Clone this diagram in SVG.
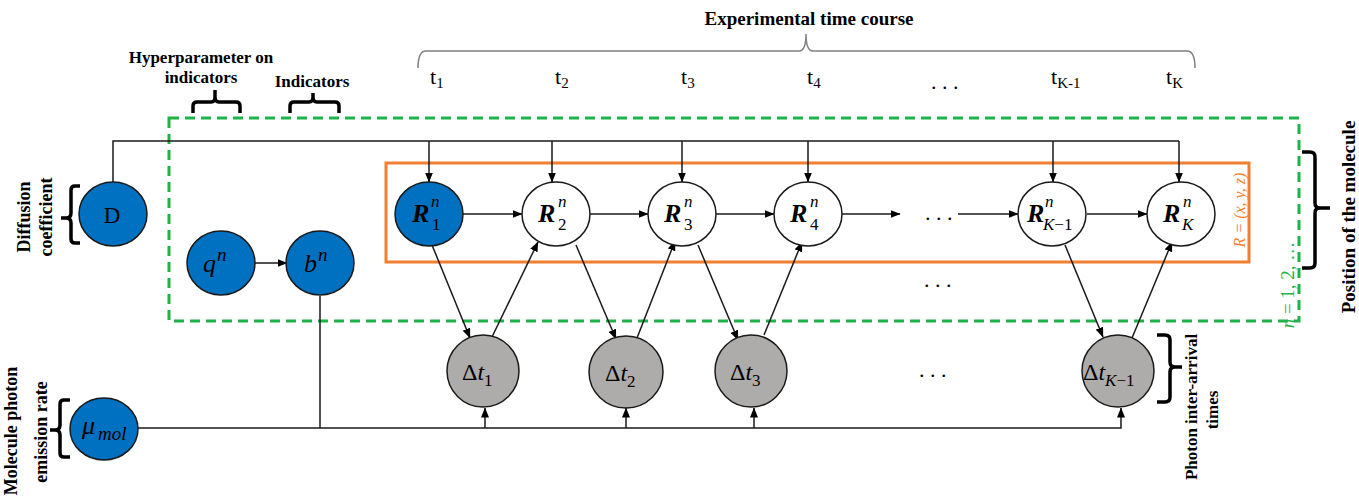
<svg xmlns="http://www.w3.org/2000/svg" width="1359" height="499" viewBox="0 0 1359 499">
<defs>
<marker id="ah" markerWidth="10" markerHeight="8" refX="9.5" refY="4" orient="auto" markerUnits="userSpaceOnUse"><path d="M0,0 L10,4 L0,8 z" fill="#000"/></marker>
<style>
.lbl{font-family:"Liberation Serif","Times New Roman",serif;font-weight:bold;fill:#000}
.m{font-family:"Liberation Serif","DejaVu Serif",serif;fill:#000}
.it{font-style:italic}
.blue{fill:#0070c0;stroke:#1a1a1a;stroke-width:1.5}
.white{fill:#fff;stroke:#1a1a1a;stroke-width:1.5}
.gray{fill:#aeabab;stroke:#1a1a1a;stroke-width:1.5}
.ln{fill:none;stroke:#1a1a1a;stroke-width:1.5}
.ar{fill:none;stroke:#1a1a1a;stroke-width:1.5;marker-end:url(#ah)}
.br{fill:none;stroke:#000;stroke-width:3.5}
.tl{font-family:"Liberation Serif",serif;fill:#000;font-size:22px}
.sp{font-size:17px;font-style:italic}
.sb{font-size:17px}
</style>
</defs>
<rect width="1359" height="499" fill="#fff"/>

<!-- frames -->
<rect x="169" y="118" width="1130" height="203" fill="none" stroke="#1fb24b" stroke-width="3" stroke-dasharray="10 6"/>
<rect x="386" y="163" width="863" height="99" fill="none" stroke="#f07f30" stroke-width="3"/>

<!-- time course brace -->
<path d="M418,68 Q418,51 426,51 L799,51 Q806,51 806,34 Q806,51 813,51 L1187,51 Q1195,51 1195,68" fill="none" stroke="#808080" stroke-width="1.5"/>
<text class="lbl" x="809" y="25" font-size="19" text-anchor="middle">Experimental time course</text>
<text class="tl" x="430" y="84">t<tspan font-size="15" dy="4">1</tspan></text>
<text class="tl" x="555" y="84">t<tspan font-size="15" dy="4">2</tspan></text>
<text class="tl" x="681" y="84">t<tspan font-size="15" dy="4">3</tspan></text>
<text class="tl" x="807" y="84">t<tspan font-size="15" dy="4">4</tspan></text>
<text class="tl" x="931" y="89">. . .</text>
<text class="tl" x="1051" y="84">t<tspan font-size="15" dy="4">K-1</tspan></text>
<text class="tl" x="1166" y="84">t<tspan font-size="15" dy="4">K</tspan></text>

<!-- labels top-left -->
<text class="lbl" x="201" y="63" font-size="17" text-anchor="middle">Hyperparameter on</text>
<text class="lbl" x="201" y="83" font-size="17" text-anchor="middle">indicators</text>
<text class="lbl" x="312" y="87" font-size="17" text-anchor="middle">Indicators</text>
<path class="br" d="M193,113 L193,106 Q193,102 197,102 L211,102 Q215,102 215,97 L215,90 M215,97 Q215,102 219,102 L236,102 Q240,102 240,106 L240,113"/>
<path class="br" d="M290,113 L290,106 Q290,102 294,102 L309,102 Q313,102 313,97 L313,93 M313,97 Q313,102 317,102 L335,102 Q339,102 339,106 L339,113"/>

<!-- left labels -->
<path class="br" d="M80,186 L75,186 Q71,186 71,190 L71,213 Q71,218 66,218 L61,218 M66,218 Q71,218 71,223 L71,239 Q71,243 75,243 L80,243"/>
<text class="lbl" font-size="18" text-anchor="middle" transform="translate(30,217) rotate(-90)">Diffusion</text>
<text class="lbl" font-size="18" text-anchor="middle" transform="translate(52,217) rotate(-90)">coefficient</text>
<path class="br" d="M70,400 L64,400 Q60,400 60,404 L60,425 Q60,430 55,430 L50,430 M55,430 Q60,430 60,435 L60,453 Q60,457 64,457 L70,457"/>
<text class="lbl" font-size="18" text-anchor="middle" transform="translate(17,431) rotate(-90)">Molecule  photon</text>
<text class="lbl" font-size="18" text-anchor="middle" transform="translate(47,432) rotate(-90)">emission rate</text>

<!-- right labels -->
<path class="br" d="M1157,335 L1165,335 Q1170,335 1170,340 L1170,362 Q1170,367 1175,367 L1182,367 M1175,367 Q1170,367 1170,372 L1170,397 Q1170,402 1165,402 L1157,402"/>
<text class="lbl" font-size="17" text-anchor="middle" transform="translate(1197,407) rotate(-90)">Photon inter-arrival</text>
<text class="lbl" font-size="17" text-anchor="middle" transform="translate(1218,410) rotate(-90)">times</text>
<path class="br" d="M1302,152 L1310,152 Q1315,152 1315,157 L1315,203 Q1315,208 1320,208 L1330,208 M1320,208 Q1315,208 1315,213 L1315,263 Q1315,268 1310,268 L1302,268"/>
<text class="lbl" font-size="19" text-anchor="middle" transform="translate(1355,217) rotate(-90)">Position of the molecule</text>
<text font-family="Liberation Serif,serif" font-size="19" fill="#1fb24b" text-anchor="middle" transform="translate(1294,285) rotate(-90)"><tspan font-style="italic">n</tspan> = 1, 2, …</text>
<text font-family="Liberation Serif,serif" font-size="16" fill="#f07f30" font-style="italic" text-anchor="middle" transform="translate(1245,210) rotate(-90)">R = (x, y, z)</text>

<!-- connectors -->
<g id="connectors">
<polyline class="ln" points="113,182 113,141 1179,141"/>
<line class="ar" x1="429" y1="141" x2="429" y2="182"/>
<line class="ar" x1="552" y1="141" x2="552" y2="182"/>
<line class="ar" x1="682" y1="141" x2="682" y2="182"/>
<line class="ar" x1="808" y1="141" x2="808" y2="182"/>
<line class="ar" x1="1053" y1="141" x2="1053" y2="182"/>
<line class="ar" x1="1179" y1="141" x2="1179" y2="182"/>
<line class="ar" x1="255" y1="263" x2="287" y2="263"/>
<line class="ar" x1="463" y1="214" x2="522" y2="214"/>
<line class="ar" x1="590" y1="214" x2="648" y2="214"/>
<line class="ar" x1="716" y1="214" x2="774" y2="214"/>
<line class="ar" x1="842" y1="214" x2="900" y2="214"/>
<line class="ar" x1="958" y1="214" x2="1018" y2="214"/>
<line class="ar" x1="1087" y1="214" x2="1147" y2="214"/>
<line class="ar" x1="432" y1="245" x2="470" y2="338"/>
<line class="ar" x1="492" y1="337" x2="538" y2="242"/>
<line class="ar" x1="576" y1="245" x2="616" y2="339"/>
<line class="ar" x1="637" y1="338" x2="675" y2="241"/>
<line class="ar" x1="698" y1="245" x2="738" y2="340"/>
<line class="ar" x1="764" y1="335" x2="802" y2="242"/>
<line class="ar" x1="1065" y1="245" x2="1103" y2="337"/>
<line class="ar" x1="1132" y1="338" x2="1172" y2="242"/>
<line class="ln" x1="320" y1="296" x2="320" y2="428"/>
<polyline class="ar" points="138,428 1121,428 1121,408"/>
<line class="ar" x1="485" y1="428" x2="485" y2="408"/>
<line class="ar" x1="626" y1="428" x2="626" y2="408"/>
<line class="ar" x1="754" y1="428" x2="754" y2="408"/>
</g>
<text class="tl" x="925" y="220">. . .</text>
<text class="tl" x="924" y="287">. . .</text>
<text class="tl" x="919" y="377">. . .</text>

<!-- nodes -->
<g id="D"><ellipse class="blue" cx="113" cy="214" rx="34" ry="32"/><text class="m" x="112" y="223" font-size="23" text-anchor="middle">D</text></g>
<g id="q"><ellipse class="blue" cx="221" cy="263" rx="34" ry="32"/><text class="m it" x="203" y="272" font-size="26">q</text><text class="m it" x="217" y="261" font-size="19">n</text></g>
<g id="b"><ellipse class="blue" cx="320" cy="263" rx="34" ry="32"/><text class="m it" x="304" y="272" font-size="26">b</text><text class="m it" x="318" y="261" font-size="19">n</text></g>
<g id="mu"><ellipse class="blue" cx="104" cy="429" rx="34" ry="31"/><text class="m it" x="82" y="434" font-size="26">μ</text><text class="m it" x="98" y="440" font-size="19">mol</text></g>

<g id="R1"><ellipse class="blue" cx="429" cy="214" rx="34" ry="32"/><text class="m it" x="412" y="222" font-size="26" font-weight="bold">R</text><text class="m sp" x="431" y="207">n</text><text class="m sb" x="432" y="230">1</text></g>
<g id="R2"><ellipse class="white" cx="556" cy="214" rx="34" ry="32"/><text class="m it" x="538" y="222" font-size="26" font-weight="bold">R</text><text class="m sp" x="558" y="207">n</text><text class="m sb" x="558" y="230">2</text></g>
<g id="R3"><ellipse class="white" cx="682" cy="214" rx="34" ry="32"/><text class="m it" x="664" y="222" font-size="26" font-weight="bold">R</text><text class="m sp" x="684" y="207">n</text><text class="m sb" x="684" y="230">3</text></g>
<g id="R4"><ellipse class="white" cx="808" cy="214" rx="34" ry="32"/><text class="m it" x="790" y="222" font-size="26" font-weight="bold">R</text><text class="m sp" x="810" y="207">n</text><text class="m sb" x="810" y="230">4</text></g>
<g id="RK1"><ellipse class="white" cx="1052" cy="214" rx="34" ry="32"/><text class="m it" x="1027" y="222" font-size="26" font-weight="bold">R</text><text class="m sp" x="1045" y="207">n</text><text class="m sb" x="1043" y="230"><tspan font-style="italic">K</tspan>−1</text></g>
<g id="RK"><ellipse class="white" cx="1181" cy="214" rx="34" ry="32"/><text class="m it" x="1163" y="222" font-size="26" font-weight="bold">R</text><text class="m sp" x="1183" y="207">n</text><text class="m sp" x="1182" y="230">K</text></g>

<g id="dt1"><ellipse class="gray" cx="483" cy="371" rx="36" ry="36"/><text class="m" x="462" y="380" font-size="24">Δ<tspan font-style="italic">t</tspan><tspan font-size="17" dy="6">1</tspan></text></g>
<g id="dt2"><ellipse class="gray" cx="626" cy="372" rx="37" ry="36"/><text class="m" x="605" y="381" font-size="24">Δ<tspan font-style="italic">t</tspan><tspan font-size="17" dy="6">2</tspan></text></g>
<g id="dt3"><ellipse class="gray" cx="751" cy="371" rx="36" ry="36"/><text class="m" x="730" y="380" font-size="24">Δ<tspan font-style="italic">t</tspan><tspan font-size="17" dy="6">3</tspan></text></g>
<g id="dtK1"><ellipse class="gray" cx="1118" cy="371" rx="36" ry="36"/><text class="m" x="1083" y="380" font-size="24">Δ<tspan font-style="italic">t</tspan><tspan font-size="17" dy="6"><tspan font-style="italic">K</tspan>−1</tspan></text></g>
</svg>
